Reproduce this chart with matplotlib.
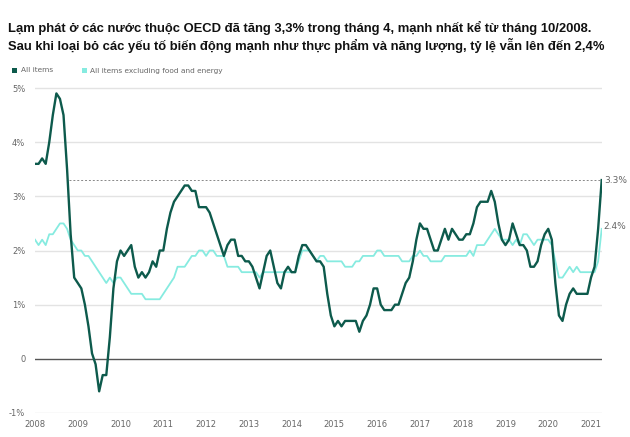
import numpy as np
import matplotlib
matplotlib.use("Agg")
import matplotlib.pyplot as plt
from matplotlib.patches import Rectangle

# monthly values, Jan 2008 .. Apr 2021
all_items = [
    3.6, 3.6, 3.7, 3.6, 4.0, 4.5, 4.9, 4.8, 4.5, 3.5, 2.3, 1.5,   # 2008
    1.4, 1.3, 1.0, 0.6, 0.1, -0.1, -0.6, -0.3, -0.3, 0.4, 1.3, 1.8,  # 2009
    2.0, 1.9, 2.0, 2.1, 1.7, 1.5, 1.6, 1.5, 1.6, 1.8, 1.7, 2.0,   # 2010
    2.0, 2.4, 2.7, 2.9, 3.0, 3.1, 3.2, 3.2, 3.1, 3.1, 2.8, 2.8,   # 2011
    2.8, 2.7, 2.5, 2.3, 2.1, 1.9, 2.1, 2.2, 2.2, 1.9, 1.9, 1.8,   # 2012
    1.8, 1.7, 1.5, 1.3, 1.6, 1.9, 2.0, 1.7, 1.4, 1.3, 1.6, 1.7,   # 2013
    1.6, 1.6, 1.9, 2.1, 2.1, 2.0, 1.9, 1.8, 1.8, 1.7, 1.2, 0.8,   # 2014
    0.6, 0.7, 0.6, 0.7, 0.7, 0.7, 0.7, 0.5, 0.7, 0.8, 1.0, 1.3,   # 2015
    1.3, 1.0, 0.9, 0.9, 0.9, 1.0, 1.0, 1.2, 1.4, 1.5, 1.8, 2.2,   # 2016
    2.5, 2.4, 2.4, 2.2, 2.0, 2.0, 2.2, 2.4, 2.2, 2.4, 2.3, 2.2,   # 2017
    2.2, 2.3, 2.3, 2.5, 2.8, 2.9, 2.9, 2.9, 3.1, 2.9, 2.5, 2.2,   # 2018
    2.1, 2.2, 2.5, 2.3, 2.1, 2.1, 2.0, 1.7, 1.7, 1.8, 2.1, 2.3,   # 2019
    2.4, 2.2, 1.4, 0.8, 0.7, 1.0, 1.2, 1.3, 1.2, 1.2, 1.2, 1.2,   # 2020
    1.5, 1.7, 2.4, 3.3,                                          # 2021
]
core = [
    2.2, 2.1, 2.2, 2.1, 2.3, 2.3, 2.4, 2.5, 2.5, 2.4, 2.2, 2.1,
    2.0, 2.0, 1.9, 1.9, 1.8, 1.7, 1.6, 1.5, 1.4, 1.5, 1.4, 1.5,
    1.5, 1.4, 1.3, 1.2, 1.2, 1.2, 1.2, 1.1, 1.1, 1.1, 1.1, 1.1,
    1.2, 1.3, 1.4, 1.5, 1.7, 1.7, 1.7, 1.8, 1.9, 1.9, 2.0, 2.0,
    1.9, 2.0, 2.0, 1.9, 1.9, 1.9, 1.7, 1.7, 1.7, 1.7, 1.6, 1.6,
    1.6, 1.6, 1.6, 1.5, 1.6, 1.6, 1.6, 1.6, 1.6, 1.6, 1.6, 1.6,
    1.6, 1.6, 1.8, 2.0, 2.0, 2.0, 1.9, 1.8, 1.9, 1.9, 1.8, 1.8,
    1.8, 1.8, 1.8, 1.7, 1.7, 1.7, 1.8, 1.8, 1.9, 1.9, 1.9, 1.9,
    2.0, 2.0, 1.9, 1.9, 1.9, 1.9, 1.9, 1.8, 1.8, 1.8, 1.9, 1.9,
    2.0, 1.9, 1.9, 1.8, 1.8, 1.8, 1.8, 1.9, 1.9, 1.9, 1.9, 1.9,
    1.9, 1.9, 2.0, 1.9, 2.1, 2.1, 2.1, 2.2, 2.3, 2.4, 2.3, 2.2,
    2.2, 2.2, 2.1, 2.2, 2.1, 2.3, 2.3, 2.2, 2.1, 2.2, 2.2, 2.2,
    2.2, 2.1, 1.8, 1.5, 1.5, 1.6, 1.7, 1.6, 1.7, 1.6, 1.6, 1.6,
    1.6, 1.6, 1.8, 2.4,
]
years = list(range(2008, 2022))
ytick_vals = [-1, 0, 1, 2, 3, 4, 5]
ytick_labels = ["-1%", "0", "1%", "2%", "3%", "4%", "5%"]

title = ("Lạm phát ở các nước thuộc OECD đã tăng 3,3% trong tháng 4, mạnh nhất kể từ tháng 10/2008.\n"
         "Sau khi loại bỏ các yếu tố biến động mạnh như thực phẩm và năng lượng, tỷ lệ vẫn lên đến 2,4%")

dark = "#0d5a4c"
light = "#86ebe0"
grey = "#666666"

t = 2008 + np.arange(len(all_items)) / 12.0

fig = plt.figure(figsize=(6.3, 4.37), dpi=100)
ax = fig.add_axes([35 / 630, 1 - 413 / 437, 566.7 / 630, (413 - 85.3) / 437])

for v in ytick_vals:
    if v == 0:
        ax.axhline(v, color="#555555", lw=1.0, zorder=1)
    else:
        ax.axhline(v, color="#e3e3e3", lw=1.0, zorder=0)

ax.hlines(3.3, 2008.8, t[-1], colors="#888888", linestyles=(0, (2, 2)), lw=0.7, zorder=1)

ax.plot(t, core, color=light, lw=1.3, zorder=2)
ax.plot(t, all_items, color=dark, lw=1.7, zorder=3)

ax.set_xlim(2008, 2021.25)
ax.set_ylim(-1, 5.05)
ax.set_yticks(ytick_vals)
ax.set_yticklabels(ytick_labels)
ax.set_xticks(years)
ax.set_xticklabels([str(y) for y in years])
ax.tick_params(length=0, labelsize=6, labelcolor=grey, pad=5)
ax.tick_params(axis="y", pad=7)
for s in ax.spines.values():
    s.set_visible(False)

ax.text(t[-1] + 0.05, 3.3, "3.3%", fontsize=6.5, color=grey, va="center", ha="left", clip_on=False)
ax.text(t[-1] + 0.05, 2.45, "2.4%", fontsize=6.5, color=grey, va="center", ha="left", clip_on=False)

fig.text(8 / 630, 1 - 21 / 437, title, fontsize=9.4, fontweight="bold", family="Liberation Sans",
         va="top", ha="left", linespacing=1.25, color="#111111")

# legend
fig.patches.append(Rectangle((12 / 630, 1 - 73 / 437), 5 / 630, 5 / 437, transform=fig.transFigure,
                             facecolor=dark, edgecolor="none"))
fig.text(21 / 630, 1 - 70.5 / 437, "All items", fontsize=5.3, color=grey, va="center", ha="left")
fig.patches.append(Rectangle((82 / 630, 1 - 73 / 437), 5 / 630, 5 / 437, transform=fig.transFigure,
                             facecolor=light, edgecolor="none"))
fig.text(90 / 630, 1 - 70.5 / 437, "All items excluding food and energy", fontsize=5.3, color=grey,
         va="center", ha="left")

fig.savefig("out.png", dpi=100)
